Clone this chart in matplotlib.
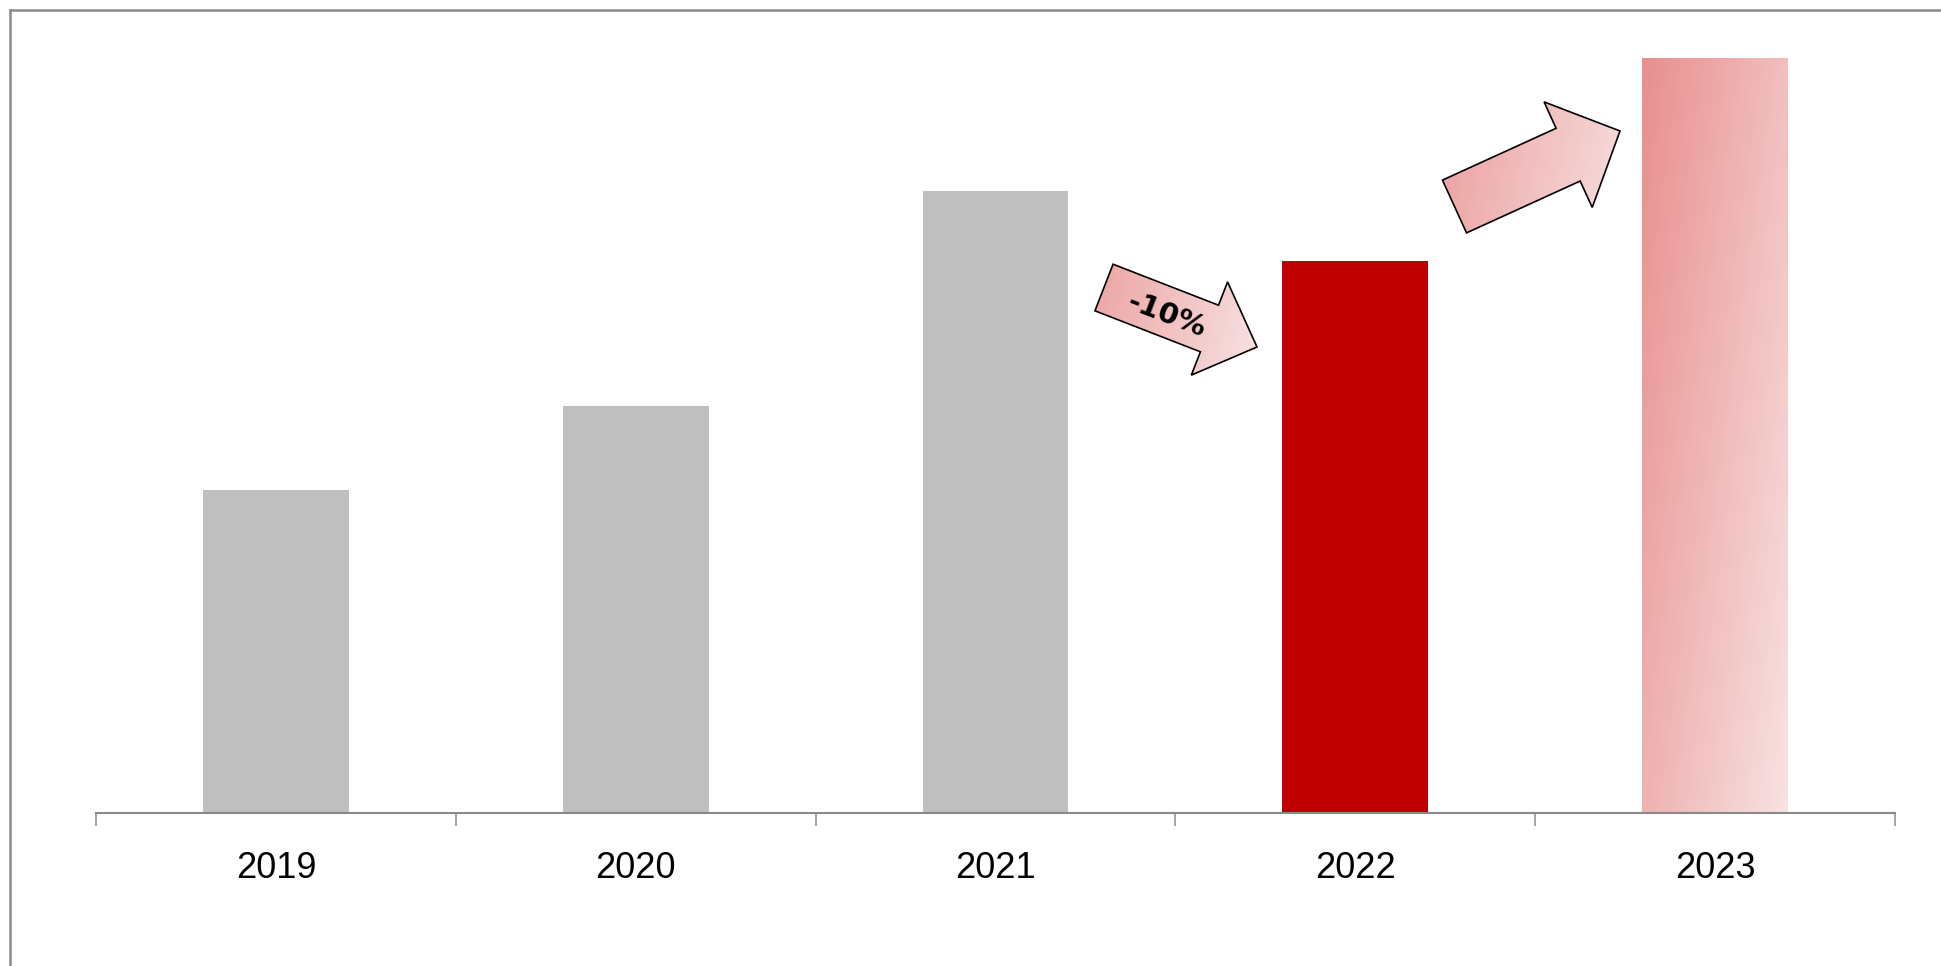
"""
Yearly bar chart with a -10% dip in 2022 and a gradient-filled 2023 bar.
"""

import numpy as np
import matplotlib
matplotlib.use("Agg")
import matplotlib.pyplot as plt
from matplotlib.patches import Polygon, Rectangle
from matplotlib.lines import Line2D

# ---------------------------------------------------------------------------
# Data (index, 2021 = 100)
# ---------------------------------------------------------------------------

years = ["2019", "2020", "2021", "2022", "2023"]
values = [51.9, 65.4, 100.0, 88.7, 121.4]
changeLabel = "-10%"

# ---------------------------------------------------------------------------
# Style
# ---------------------------------------------------------------------------

W, H = 1941, 966
GREY_BAR = "#bfbfbf"
RED_BAR = "#c00000"
AXIS_GREY = "#8a8a8a"
GRAD_START = np.array([232, 138, 138]) / 255
GRAD_END = np.array([248, 226, 226]) / 255


def gradient(rows, cols, t0, ax_x, ax_y):
    """Linear colour ramp; t = t0 + ax_x * x + ax_y * y (x, y in 0..1)."""
    xn = np.linspace(0, 1, cols)[None, :]
    yn = np.linspace(0, 1, rows)[:, None]
    t = np.clip(t0 + ax_x * xn + ax_y * yn, 0, 1)
    return GRAD_START + (GRAD_END - GRAD_START) * t[..., None]


def arrowShape(tail, tip, shaftW, headW, headL):
    """Block-arrow outline in pixel space."""
    tail = np.array(tail, float)
    tip = np.array(tip, float)
    u = (tip - tail) / np.linalg.norm(tip - tail)
    n = np.array([-u[1], u[0]])
    base = tip - u * headL
    return np.array([
        tail + n * shaftW / 2,
        base + n * shaftW / 2,
        base + n * headW / 2,
        tip,
        base - n * headW / 2,
        base - n * shaftW / 2,
        tail - n * shaftW / 2,
    ])


def main():
    fig = plt.figure(figsize=(W / 100, H / 100), dpi=100)

    axLeft, axRight, axBottom, axTop = 96, 1895, 813, 20
    ax = fig.add_axes([axLeft / W, (H - axBottom) / H,
                       (axRight - axLeft) / W, (axBottom - axTop) / H])

    x = np.arange(len(years))
    barWidth = 0.405
    colors = [GREY_BAR, GREY_BAR, GREY_BAR, RED_BAR, "none"]
    bars = ax.bar(x, values, width=barWidth, color=colors, zorder=2)

    # gradient fill for the last bar
    last = bars[-1]
    img = gradient(200, 60, 0.05, 0.55, 0.4)
    im = ax.imshow(img, extent=(last.get_x(), last.get_x() + barWidth, 0, values[-1]),
                   origin="upper", aspect="auto", zorder=2, interpolation="bilinear")
    clip = Rectangle((last.get_x(), 0), barWidth, values[-1], transform=ax.transData)
    im.set_clip_path(clip)

    ax.set_xlim(-0.5, len(years) - 0.5)
    ax.set_ylim(0, values[-1] * (axBottom - axTop) / 755)

    ax.set_xticks(x)
    ax.set_xticklabels(years, fontsize=26, family="Liberation Sans")
    ax.set_xticks(np.arange(-0.5, len(years)), minor=True)
    ax.tick_params(axis="x", which="major", length=0, pad=27)
    ax.tick_params(axis="x", which="minor", length=9, width=1.1, color=AXIS_GREY)
    ax.set_yticks([])

    for side in ["top", "left", "right"]:
        ax.spines[side].set_visible(False)
    ax.spines["bottom"].set_color(AXIS_GREY)
    ax.spines["bottom"].set_linewidth(1.5)
    ax.spines["bottom"].set_zorder(3)

    # ---- overlay in pixel coordinates for arrows and frame -----------------
    ov = fig.add_axes([0, 0, 1, 1], facecolor="none")
    ov.set_xlim(0, W)
    ov.set_ylim(H, 0)
    ov.axis("off")

    arrows = [
        dict(tail=(1104, 287.5), tip=(1257, 347), shaftW=50, headW=100, headL=51,
             t0=0.3, tx=0.6),
        dict(tail=(1454.5, 206.5), tip=(1620, 131), shaftW=58, headW=116, headL=57,
             t0=0.25, tx=0.6),
    ]
    for a in arrows:
        pts = arrowShape(a["tail"], a["tip"], a["shaftW"], a["headW"], a["headL"])
        x0, y0 = pts.min(axis=0)
        x1, y1 = pts.max(axis=0)
        gimg = gradient(60, 100, a["t0"], a["tx"], 0.1)
        gim = ov.imshow(gimg, extent=(x0, x1, y1, y0), origin="upper",
                        aspect="auto", zorder=4, interpolation="bilinear")
        poly = Polygon(pts, closed=True, facecolor="none", edgecolor="black",
                       linewidth=1.2, zorder=5)
        ov.add_patch(poly)
        gim.set_clip_path(poly)

    ov.set_xlim(0, W)
    ov.set_ylim(H, 0)

    ov.text(1166, 315, changeLabel, fontsize=21, fontweight="bold",
            rotation=-21, ha="center", va="center", zorder=6,
            family="DejaVu Sans")

    # outer frame: only top and left edges are visible
    frameKw = dict(color=AXIS_GREY, linewidth=1.8)
    fig.add_artist(Line2D([9.5 / W, 1], [1 - 9.5 / H, 1 - 9.5 / H], **frameKw))
    fig.add_artist(Line2D([9.5 / W, 9.5 / W], [0, 1 - 9.5 / H], **frameKw))

    fig.savefig("out.png", dpi=100)


if __name__ == "__main__":
    main()
